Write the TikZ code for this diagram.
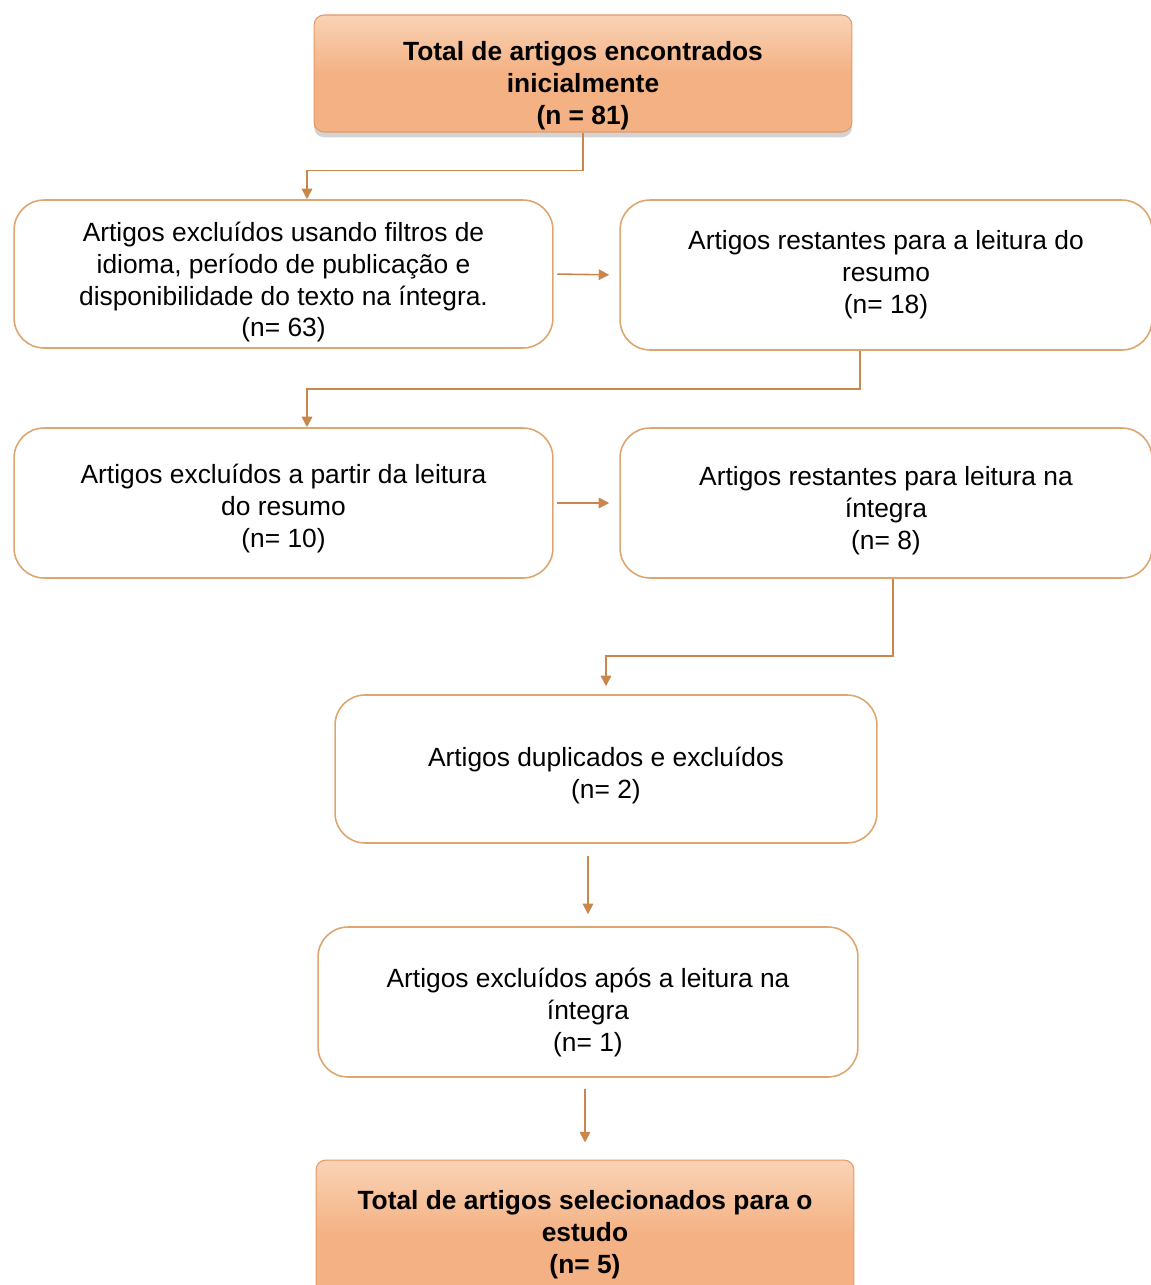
\documentclass[tikz,border=0pt]{standalone}
\usepackage{fontspec}
\setmainfont{Liberation Sans}
\usepackage{tikz}
\usetikzlibrary{arrows.meta,shadows}

\definecolor{borda}{HTML}{DDA66E}
\definecolor{seta}{HTML}{C9874B}
\definecolor{pessego}{HTML}{F4B183}
\definecolor{pessegoclaro}{HTML}{F9D3B6}
\definecolor{bordaforte}{HTML}{E39A66}

\tikzset{
  caixa/.style={draw=borda, line width=0.9pt, rounded corners=0.6cm, fill=white,
                align=center, inner sep=0pt, font=\fontsize{15}{18.2}\selectfont},
  destaque/.style={draw=bordaforte, line width=0.6pt, rounded corners=0.2cm,
                   top color=pessegoclaro, bottom color=pessego, middle color=pessego,
                   drop shadow={shadow xshift=0pt, shadow yshift=-3pt, opacity=0.35},
                   align=center, inner sep=0pt, font=\bfseries\fontsize{15}{18.2}\selectfont},
  desce/.style={text height=#1},
  ligacao/.style={draw=seta, line width=0.9pt, -{Triangle[width=6pt,length=6pt]}}
}

\begin{document}
\begin{tikzpicture}[x=0.02cm, y=-0.02cm]
\useasboundingbox (0,0) rectangle (1150,1285);

% caixas
\node[destaque, desce=61pt, minimum width=10.76cm, minimum height=2.34cm] (total) at (583,73.5)
  {Total de artigos encontrados\\inicialmente\\(n = 81)};
\node[caixa, desce=74.8pt, minimum width=10.78cm, minimum height=2.96cm] (exclA) at (283.5,274)
  {Artigos excluídos usando filtros de\\idioma, período de publicação e\\disponibilidade do texto na íntegra.\\(n= 63)};
\node[caixa, minimum width=10.64cm, minimum height=3.0cm] (restB) at (886,275)
  {Artigos restantes para a leitura do\\resumo\\(n= 18)};
\node[caixa, desce=53.2pt, minimum width=10.78cm, minimum height=3.0cm] (exclC) at (283.5,503)
  {Artigos excluídos a partir da leitura\\do resumo\\(n= 10)};
\node[caixa, desce=56.5pt, minimum width=10.64cm, minimum height=3.0cm] (restD) at (886,503)
  {Artigos restantes para leitura na\\íntegra\\(n= 8)};
\node[caixa, desce=36.4pt, minimum width=10.84cm, minimum height=2.96cm] (dupE) at (606,769)
  {Artigos duplicados e excluídos\\(n= 2)};
\node[caixa, desce=59.2pt, minimum width=10.8cm, minimum height=3.0cm] (exclF) at (588,1002)
  {Artigos excluídos após a leitura na\\íntegra\\(n= 1)};
\node[destaque, minimum width=10.76cm, minimum height=3.0cm] (final) at (585,1235)
  {Total de artigos selecionados para o\\estudo\\(n= 5)};

% ligacoes
\draw[ligacao] (total.south) -- ++(0,38) -| ([xshift=0.47cm]exclA.north);
\draw[ligacao, shorten <=2pt, shorten >=0.2cm] (exclA.east) -- (restB.west);
\draw[ligacao] ([xshift=-0.52cm]restB.south) -- ++(0,38) -| ([xshift=0.47cm]exclC.north);
\draw[ligacao, shorten <=2pt, shorten >=0.2cm] (exclC.east) -- (restD.west);
\draw[ligacao, shorten >=0.16cm] ([xshift=0.14cm]restD.south) -- ++(0,77) -| (dupE.north);
\draw[ligacao, shorten <=0.24cm, shorten >=0.24cm] (exclF.north |- dupE.south) -- (exclF.north);
\draw[ligacao, shorten <=0.22cm, shorten >=0.34cm] (final.north |- exclF.south) -- (final.north);
\end{tikzpicture}
\end{document}
